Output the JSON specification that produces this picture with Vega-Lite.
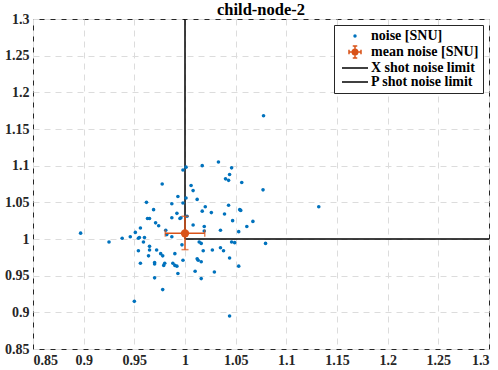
{
  "$schema": "https://vega.github.io/schema/vega-lite/v6.json",
  "width": 456,
  "height": 330,
  "autosize": {"type": "none"},
  "padding": {"left": 33, "top": 19, "right": 9, "bottom": 21},
  "background": "white",
  "title": {"text": "child-node-2", "font": "Liberation Serif", "fontSize": 16.5, "fontWeight": "bold", "color": "#000000", "offset": -6},
  "config": {
    "view": {"stroke": "#262626", "strokeWidth": 1},
    "axis": {
      "labelFont": "Liberation Serif", "labelFontSize": 14, "labelFontWeight": "bold", "labelColor": "#262626",
      "domain": false, "ticks": false, "grid": true, "gridDash": [6, 5], "gridColor": "#dcdcdc", "gridWidth": 1,
      "title": null, "format": ".2~f", "values": [0.85, 0.9, 0.95, 1, 1.05, 1.1, 1.15, 1.2, 1.25, 1.3]
    },
    "axisX": {"labelPadding": 4},
    "axisY": {"labelPadding": 4}
  },
  "datasets": {
    "noise": [
      {"x": 0.897, "y": 1.008}, {"x": 0.925, "y": 0.996}, {"x": 0.938, "y": 1.001}, {"x": 0.946, "y": 1.003},
      {"x": 0.951, "y": 1.009}, {"x": 0.954, "y": 1.001}, {"x": 0.955, "y": 1.002}, {"x": 0.956, "y": 1.015},
      {"x": 0.960, "y": 1.002}, {"x": 0.962, "y": 1.050}, {"x": 0.963, "y": 1.028}, {"x": 0.965, "y": 1.028},
      {"x": 0.969, "y": 1.040}, {"x": 0.971, "y": 1.022}, {"x": 0.974, "y": 1.018}, {"x": 0.9775, "y": 1.075},
      {"x": 0.981, "y": 1.012}, {"x": 0.982, "y": 1.006}, {"x": 0.987, "y": 1.029}, {"x": 0.987, "y": 1.003},
      {"x": 0.987, "y": 1.048}, {"x": 0.992, "y": 1.035}, {"x": 0.993, "y": 1.058}, {"x": 0.995, "y": 1.028},
      {"x": 0.996, "y": 1.029}, {"x": 0.998, "y": 1.049}, {"x": 0.998, "y": 1.094}, {"x": 1.001, "y": 1.098},
      {"x": 1.001, "y": 1.056}, {"x": 1.002, "y": 1.031}, {"x": 1.006, "y": 1.073}, {"x": 1.008, "y": 1.066},
      {"x": 1.008, "y": 1.019}, {"x": 1.012, "y": 1.054}, {"x": 1.017, "y": 1.100}, {"x": 1.017, "y": 1.038},
      {"x": 1.020, "y": 1.044}, {"x": 1.019, "y": 1.017}, {"x": 1.019, "y": 1.011}, {"x": 1.026, "y": 1.036},
      {"x": 1.033, "y": 1.105}, {"x": 1.035, "y": 1.012}, {"x": 1.039, "y": 1.034}, {"x": 1.040, "y": 1.082},
      {"x": 1.043, "y": 1.080}, {"x": 1.043, "y": 1.046}, {"x": 1.044, "y": 1.088}, {"x": 1.046, "y": 1.097},
      {"x": 1.047, "y": 1.025}, {"x": 1.053, "y": 1.010}, {"x": 1.054, "y": 1.040}, {"x": 1.055, "y": 1.039},
      {"x": 1.056, "y": 1.077}, {"x": 1.061, "y": 1.017}, {"x": 1.067, "y": 1.024}, {"x": 1.077, "y": 1.067},
      {"x": 1.132, "y": 1.044}, {"x": 1.0775, "y": 1.168},
      {"x": 0.954, "y": 0.984}, {"x": 0.959, "y": 0.996}, {"x": 0.964, "y": 0.977}, {"x": 0.965, "y": 0.990},
      {"x": 0.965, "y": 0.985}, {"x": 0.956, "y": 0.967}, {"x": 0.972, "y": 0.985}, {"x": 0.970, "y": 0.966},
      {"x": 0.970, "y": 0.968}, {"x": 0.970, "y": 0.947}, {"x": 0.976, "y": 0.980}, {"x": 0.978, "y": 0.977},
      {"x": 0.979, "y": 0.964}, {"x": 0.980, "y": 0.967}, {"x": 0.978, "y": 0.931}, {"x": 0.988, "y": 0.967},
      {"x": 0.990, "y": 0.964}, {"x": 0.992, "y": 0.963}, {"x": 0.990, "y": 0.980}, {"x": 0.993, "y": 0.953},
      {"x": 0.997, "y": 0.992}, {"x": 0.998, "y": 0.971}, {"x": 1.010, "y": 0.956}, {"x": 1.012, "y": 0.973},
      {"x": 1.013, "y": 0.971}, {"x": 1.014, "y": 0.996}, {"x": 1.016, "y": 0.994}, {"x": 1.016, "y": 0.969},
      {"x": 1.016, "y": 0.946}, {"x": 1.018, "y": 0.984}, {"x": 1.027, "y": 0.985}, {"x": 1.029, "y": 0.955},
      {"x": 1.035, "y": 0.988}, {"x": 1.038, "y": 0.984}, {"x": 1.044, "y": 0.974}, {"x": 1.044, "y": 0.895},
      {"x": 1.046, "y": 0.996}, {"x": 1.049, "y": 0.995}, {"x": 1.053, "y": 0.963}, {"x": 1.0795, "y": 0.994},
      {"x": 0.950, "y": 0.915}
    ],
    "mean": [
      {"series": "mean noise [SNU]", "x": 1.0, "y": 1.0077, "xlo": 0.9805, "xhi": 1.0195, "ylo": 0.9855, "yhi": 1.031}
    ],
    "limits": [
      {"series": "X shot noise limit", "x": 1, "x2": 1, "y": 1, "y2": 1.3},
      {"series": "P shot noise limit", "x": 1, "x2": 1.3, "y": 1, "y2": 1}
    ]
  },
  "layer": [
    {
      "data": {"name": "limits"},
      "mark": {"type": "rule", "strokeWidth": 1.5},
      "encoding": {
        "x": {"field": "x", "type": "quantitative", "scale": {"domain": [0.85, 1.3], "nice": false, "zero": false}},
        "x2": {"field": "x2"},
        "y": {"field": "y", "type": "quantitative", "scale": {"domain": [0.85, 1.3], "nice": false, "zero": false}},
        "y2": {"field": "y2"},
        "color": {
          "field": "series", "type": "nominal",
          "scale": {
            "domain": ["noise [SNU]", "mean noise [SNU]", "X shot noise limit", "P shot noise limit"],
            "range": ["#0072BD", "#D95319", "#000000", "#000000"]
          },
          "legend": {
            "title": null, "orient": "top-right", "offset": 6,
            "strokeColor": "#262626", "fillColor": "white", "padding": 4, "cornerRadius": 0,
            "labelFont": "Liberation Serif", "labelFontSize": 14, "labelFontWeight": "bold", "labelColor": "#000000",
            "symbolSize": 100, "symbolOffset": 10, "labelOffset": 9, "rowPadding": 0,
            "encode": {
              "symbols": {
                "update": {
                  "shape": {"signal": "datum.value === 'noise [SNU]' ? 'circle' : datum.value === 'mean noise [SNU]' ? 'M-0.55,0A0.55,0.55 0 1,0 0.55,0A0.55,0.55 0 1,0 -0.55,0Z M-1.2,0L1.2,0 M0,-1.2L0,1.2 M-1.2,-0.45L-1.2,0.45 M1.2,-0.45L1.2,0.45 M-0.45,-1.2L0.45,-1.2 M-0.45,1.2L0.45,1.2' : 'M-2.6,0L2.6,0'"},
                  "size": {"signal": "datum.value === 'noise [SNU]' ? 12 : 100"},
                  "fill": {"signal": "datum.value === 'noise [SNU]' ? '#0072BD' : datum.value === 'mean noise [SNU]' ? '#D95319' : 'transparent'"},
                  "stroke": {"signal": "datum.value === 'noise [SNU]' ? '#0072BD' : datum.value === 'mean noise [SNU]' ? '#D95319' : '#000000'"},
                  "strokeWidth": {"signal": "datum.value === 'noise [SNU]' ? 0 : 1.5"},
                  "opacity": {"value": 1}
                }
              }
            }
          }
        }
      }
    },
    {
      "data": {"name": "noise"},
      "mark": {"type": "circle", "size": 13, "opacity": 1},
      "encoding": {
        "x": {"field": "x", "type": "quantitative"},
        "y": {"field": "y", "type": "quantitative"},
        "color": {"datum": "noise [SNU]"}
      }
    },
    {
      "data": {"name": "mean"},
      "mark": {"type": "rule", "color": "#D95319", "strokeWidth": 1.5},
      "encoding": {
        "x": {"field": "xlo", "type": "quantitative"},
        "x2": {"field": "xhi"},
        "y": {"field": "y", "type": "quantitative"}
      }
    },
    {
      "data": {"name": "mean"},
      "mark": {"type": "rule", "color": "#D95319", "strokeWidth": 1.5},
      "encoding": {
        "x": {"field": "x", "type": "quantitative"},
        "y": {"field": "ylo", "type": "quantitative"},
        "y2": {"field": "yhi"}
      }
    },
    {
      "data": {"name": "mean"},
      "layer": [
        {"mark": {"type": "tick", "orient": "vertical", "color": "#D95319", "size": 7, "thickness": 1.5},
         "encoding": {"x": {"field": "xlo", "type": "quantitative"}, "y": {"field": "y", "type": "quantitative"}}},
        {"mark": {"type": "tick", "orient": "vertical", "color": "#D95319", "size": 7, "thickness": 1.5},
         "encoding": {"x": {"field": "xhi", "type": "quantitative"}, "y": {"field": "y", "type": "quantitative"}}},
        {"mark": {"type": "tick", "orient": "horizontal", "color": "#D95319", "size": 7, "thickness": 1.5},
         "encoding": {"x": {"field": "x", "type": "quantitative"}, "y": {"field": "ylo", "type": "quantitative"}}},
        {"mark": {"type": "tick", "orient": "horizontal", "color": "#D95319", "size": 7, "thickness": 1.5},
         "encoding": {"x": {"field": "x", "type": "quantitative"}, "y": {"field": "yhi", "type": "quantitative"}}}
      ]
    },
    {
      "data": {"name": "mean"},
      "mark": {"type": "circle", "size": 70, "opacity": 1},
      "encoding": {
        "x": {"field": "x", "type": "quantitative"},
        "y": {"field": "y", "type": "quantitative"},
        "color": {"field": "series", "type": "nominal"}
      }
    }
  ]
}
